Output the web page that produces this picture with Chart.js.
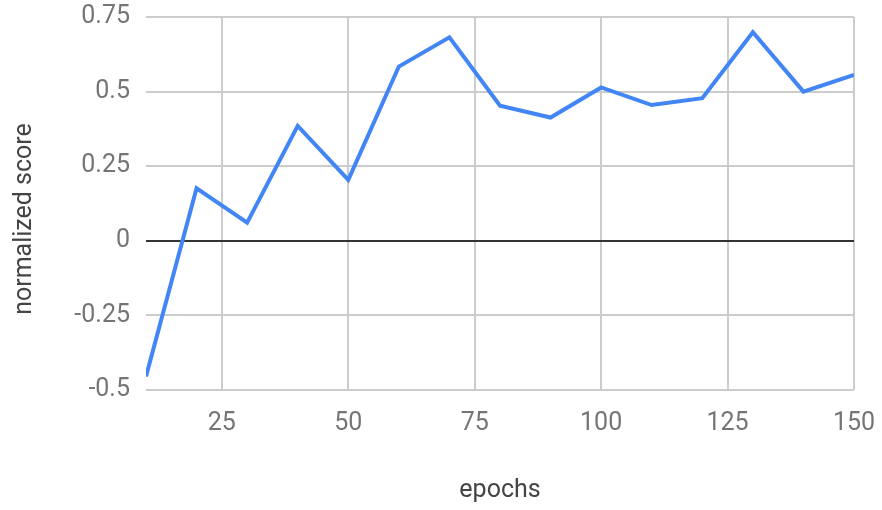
<!DOCTYPE html>
<html>
<head>
<meta charset="utf-8">
<script src="https://cdn.jsdelivr.net/npm/chart.js@4/dist/chart.umd.min.js"></script>
<style>
  html, body { margin: 0; padding: 0; background: #fff; }
  #wrap { width: 882px; height: 510px; }
</style>
</head>
<body>
<div id="wrap"><canvas id="c" width="882" height="510"></canvas></div>
<script>
// Training curve: normalized score measured every 10 epochs
const epochs = [10, 20, 30, 40, 50, 60, 70, 80, 90, 100, 110, 120, 130, 140, 150];
const scores = [-0.455, 0.176, 0.061, 0.385, 0.204, 0.584, 0.682, 0.453, 0.413, 0.514, 0.455, 0.478, 0.699, 0.5, 0.556];

const xTicks = [25, 50, 75, 100, 125, 150];
const yTicks = [-0.5, -0.25, 0, 0.25, 0.5, 0.75];

const xTitle = 'epochs';
const yTitle = 'normalized score';

const FONT = 'Roboto, "Noto Sans", sans-serif';

// Axis titles, drawn centred on the plot width and slightly below the plot centre vertically
const axisTitles = {
  id: 'axisTitles',
  afterDraw(chart) {
    const { ctx, chartArea } = chart;
    ctx.save();
    ctx.fillStyle = '#444';
    ctx.font = '25px ' + FONT;
    ctx.textAlign = 'center';
    ctx.textBaseline = 'middle';
    ctx.fillText(xTitle, (chartArea.left + chartArea.right) / 2, 491);
    ctx.translate(25, 219);
    ctx.rotate(-Math.PI / 2);
    ctx.fillText(yTitle, 0, 0);
    ctx.restore();
  }
};

// keep the plot area fixed: no extra room reserved for overhanging tick labels
const noLabelPadding = s => {
  s.paddingTop = 0; s.paddingBottom = 0; s.paddingLeft = 0; s.paddingRight = 0;
};

new Chart(document.getElementById('c'), {
  type: 'line',
  data: {
    datasets: [{
      data: epochs.map((e, i) => ({ x: e, y: scores[i] })),
      borderColor: '#4285F4',
      borderWidth: 4,
      pointRadius: 0,
      tension: 0,
      fill: false
    }]
  },
  options: {
    responsive: false,
    animation: false,
    layout: { padding: { top: 17, right: 28, left: 0, bottom: 0 } },
    plugins: { legend: { display: false }, tooltip: { enabled: false } },
    scales: {
      x: {
        type: 'linear',
        min: 10,
        max: 150,
        afterBuildTicks: s => { s.ticks = xTicks.map(v => ({ value: v })); },
        afterFit: s => { s.height = 120; noLabelPadding(s); },
        border: { display: false },
        grid: { color: '#cccccc', lineWidth: 2, drawTicks: false },
        ticks: {
          padding: 19,
          color: '#757575',
          font: { family: FONT, size: 25 },
          maxRotation: 0,
          callback: v => String(v)
        }
      },
      y: {
        min: -0.5,
        max: 0.75,
        afterBuildTicks: s => { s.ticks = yTicks.map(v => ({ value: v })); },
        afterFit: s => { s.width = 146; noLabelPadding(s); },
        border: { display: false },
        grid: {
          color: c => (c.tick && c.tick.value === 0 ? '#333333' : '#cccccc'),
          lineWidth: 2,
          drawTicks: false
        },
        ticks: {
          padding: 16,
          color: '#757575',
          font: { family: FONT, size: 25 },
          callback: v => String(v)
        }
      }
    }
  },
  plugins: [axisTitles]
});
</script>
</body>
</html>
